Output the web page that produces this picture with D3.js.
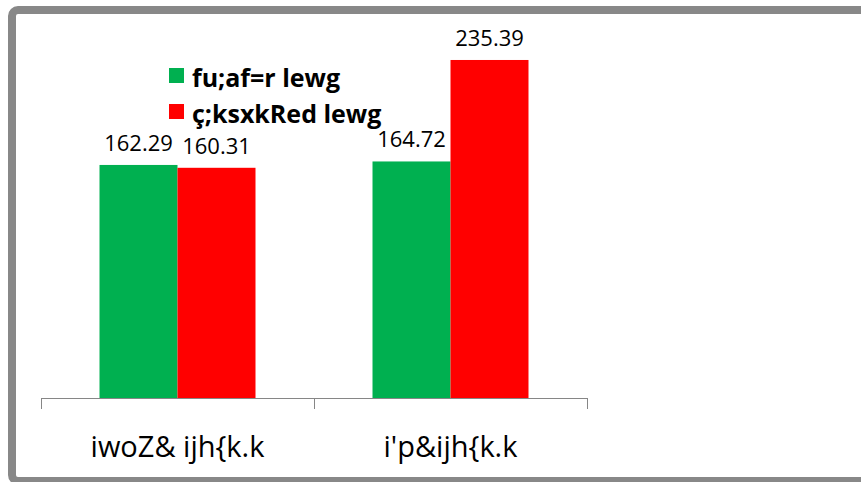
<!DOCTYPE html>
<html>
<head>
<meta charset="utf-8">
<script src="https://cdn.jsdelivr.net/npm/d3@7"></script>
<style>
  html, body { margin: 0; padding: 0; background: #fff; }
  svg { display: block; }
  text { font-family: "Segoe UI", "Open Sans", "Noto Sans", sans-serif; fill: #000; }
</style>
</head>
<body>
<svg id="chart" width="861" height="482"></svg>
<script>
// Categories, series and their values
const categories = ["iwoZ& ijh{k.k", "i'p&ijh{k.k"];
const seriesNames = ["fu;af=r lewg", "ç;ksxkRed lewg"];
const seriesColors = ["#00b050", "#ff0000"];
const controlValues = [162.29, 164.72];
const experimentalValues = [160.31, 235.39];
const valueLabels = [["162.29", "160.31"], ["164.72", "235.39"]];

const seriesValues = [controlValues, experimentalValues];

const svg = d3.select("#chart");

// Outer frame
svg.append("rect")
  .attr("x", 12).attr("y", 10)
  .attr("width", 900).attr("height", 471)
  .attr("rx", 6).attr("ry", 6)
  .attr("fill", "#fff")
  .attr("stroke", "#888888")
  .attr("stroke-width", 8);

const baseY = 398;
const x0 = d3.scaleBand().domain(categories).range([41, 587]).paddingInner(0).paddingOuter(0);
const bw = x0.bandwidth();
const x1 = d3.scaleBand().domain(d3.range(seriesNames.length))
  .range([bw * 0.2143, bw * 0.7857]).paddingInner(0).paddingOuter(0);
const y = d3.scaleLinear().domain([0, 250]).range([baseY, baseY - 250 * 1.436]);

// Bars
const groups = svg.append("g").selectAll("g")
  .data(categories)
  .join("g")
  .attr("transform", d => `translate(${x0(d)},0)`);

groups.selectAll("rect")
  .data((c, ci) => seriesValues.map((vals, si) => ({ si, ci, v: vals[ci] })))
  .join("rect")
  .attr("x", d => x1(d.si))
  .attr("y", d => y(d.v))
  .attr("width", x1.bandwidth())
  .attr("height", d => baseY - y(d.v))
  .attr("fill", d => seriesColors[d.si]);

// Value labels
groups.selectAll("text.val")
  .data((c, ci) => seriesValues.map((vals, si) => ({ si, ci, v: vals[ci] })))
  .join("text")
  .attr("class", "val")
  .attr("x", d => x1(d.si) + x1.bandwidth() / 2)
  .attr("y", d => y(d.v) - 14)
  .attr("text-anchor", "middle")
  .style("font-size", "22px")
  .text(d => valueLabels[d.ci][d.si]);

// Category axis: line with boundary ticks
const axisG = svg.append("g");
axisG.append("line")
  .attr("x1", 41).attr("x2", 587)
  .attr("y1", baseY + 0.5).attr("y2", baseY + 0.5)
  .attr("stroke", "#868686").attr("stroke-width", 1);
const boundaries = categories.map(c => x0(c)).concat([x0.range()[1]]);
axisG.selectAll("line.tick")
  .data(boundaries)
  .join("line")
  .attr("class", "tick")
  .attr("x1", d => Math.round(d) + 0.5).attr("x2", d => Math.round(d) + 0.5)
  .attr("y1", baseY).attr("y2", baseY + 11)
  .attr("stroke", "#868686").attr("stroke-width", 1);

const labelAxis = d3.axisBottom(x0).tickSize(0).tickPadding(0);
const la = svg.append("g").attr("transform", `translate(0,${baseY})`).call(labelAxis);
la.select(".domain").remove();
la.selectAll("text")
  .attr("y", 59)
  .attr("dy", null)
  .style("font-size", "29px")
  .style("font-family", "\"Segoe UI\", \"Open Sans\", \"Noto Sans\", sans-serif")
  .attr("fill", "#000");

// Legend
const legend = svg.append("g").attr("transform", "translate(169,68)");
const li = legend.selectAll("g")
  .data(seriesNames)
  .join("g")
  .attr("transform", (d, i) => `translate(0,${i * 36})`);
li.append("rect").attr("width", 15).attr("height", 15).attr("fill", (d, i) => seriesColors[i]);
li.append("text")
  .attr("x", 23).attr("y", 18.5)
  .style("font-size", "25px")
  .style("font-weight", "bold")
  .text(d => d);
</script>
</body>
</html>
